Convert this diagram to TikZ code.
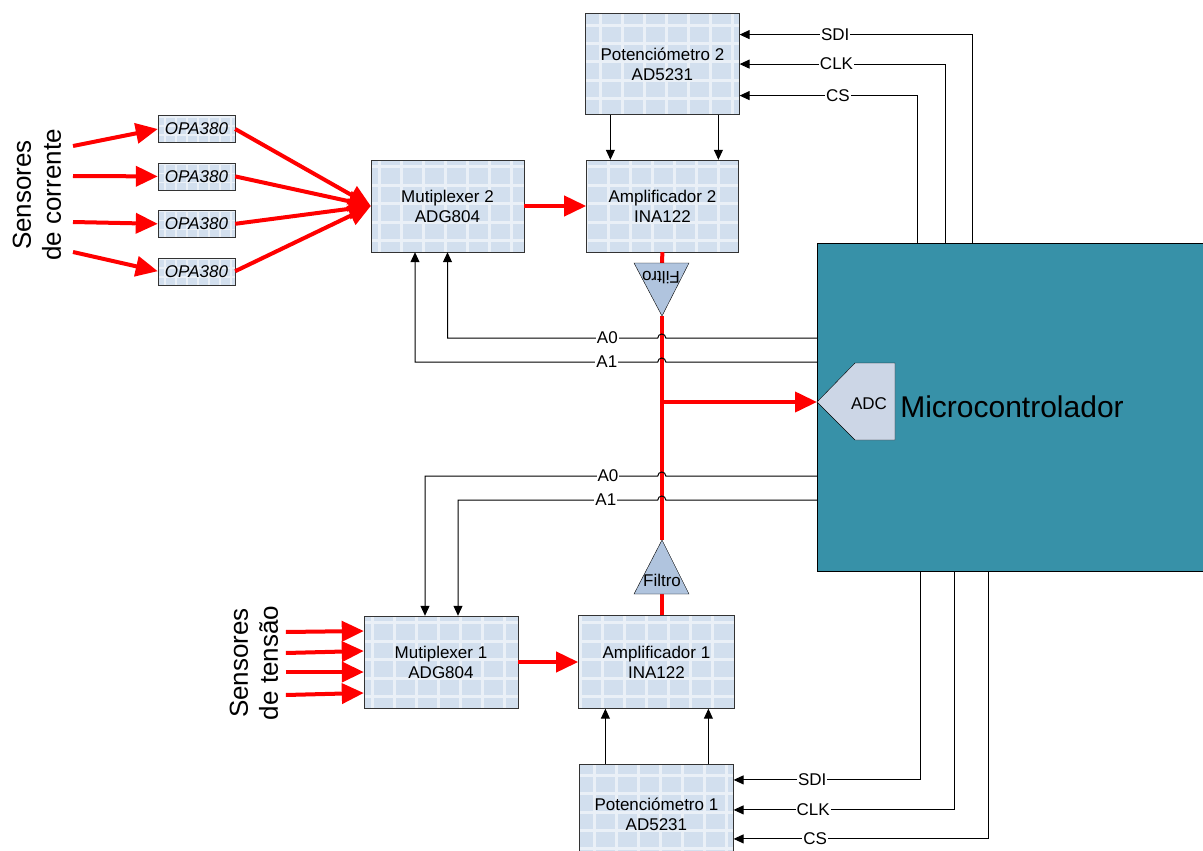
\documentclass[tikz,border=0pt]{standalone}
\usepackage{fontspec}
\setmainfont{Liberation Sans}
\usetikzlibrary{arrows.meta, positioning, calc}

\begin{document}
\begin{tikzpicture}[x=1pt, y=-1pt,
    tile/.style={draw=white, opacity=.55, line width=3pt},
    bloco/.style={draw=black!80, fill=blococor, minimum width=153pt, minimum height=92pt, align=center,
        font=\fontsize{17}{20}\selectfont,
        path picture={\draw[tile] (path picture bounding box.south west) grid[xstep=22pt, ystep=18.4pt] (path picture bounding box.north east);}},
    opa/.style={draw=black!80, fill=blococor, minimum width=77pt, minimum height=27pt, inner sep=0pt,
        font=\itshape\fontsize{17}{20}\selectfont,
        path picture={\draw[tile, line width=1.5pt] (path picture bounding box.south west) grid[xstep=11pt, ystep=9pt] (path picture bounding box.north east);}},
    sinal/.style={draw=red, line width=4pt, -{Triangle[length=22pt, width=20pt]}},
    trilha/.style={draw=red, line width=4pt},
    ctrl/.style={draw=black, line width=1pt, -{Triangle[length=10pt, width=9pt]}},
    rotulo/.style={fill=white, inner sep=1pt, font=\fontsize{17}{20}\selectfont},
    grande/.style={align=center, font=\fontsize{26}{30}\selectfont, rotate=90}]

    % Cores
    \definecolor{blococor}{RGB}{210,223,238}
    \definecolor{filtrocor}{RGB}{176,196,222}
    \definecolor{adccor}{RGB}{204,214,230}
    \definecolor{mcucor}{RGB}{55,145,168}

    \useasboundingbox (0,0) rectangle (1203,851);

    % Microcontrolador
    \node[draw=black, fill=mcucor, minimum width=400pt, minimum height=328pt] (mcu) at (1017,407) {};
    \coordinate (adc) at (817,402);
    \draw[draw=black, fill=adccor] (adc) -- (855,363) -- (895,363) -- (895,440) -- (855,440) -- cycle;
    \node[font=\fontsize{17}{20}\selectfont] (adctxt) at (869,404) {ADC};
    \node[font=\fontsize{30}{36}\selectfont] (mcutxt) at (1012,407) {Microcontrolador};

    % Canal de corrente
    \node[bloco] (mux2) at (447.5,206) {Mutiplexer 2\\ADG804};
    \node[bloco, minimum width=152pt, right=62pt of mux2] (amp2) {Amplificador 2\\INA122};
    \node[bloco, minimum width=154pt, minimum height=101pt, above=45pt of amp2] (pot2) {Potenciómetro 2\\AD5231};

    \node[opa] (opa1) at (196.5,129) {OPA380};
    \node[opa, below=20pt of opa1] (opa2) {OPA380};
    \node[opa, below=20pt of opa2] (opa3) {OPA380};
    \node[opa, below=20pt of opa3] (opa4) {OPA380};

    \node[grande] (sencor) at (37,195) {Sensores\\de corrente};
    \coordinate (c1) at (73,146);
    \coordinate (c2) at (73,176);
    \coordinate (c3) at (73,222);
    \coordinate (c4) at (73,252);

    % Canal de tensao
    \node[bloco, minimum width=154pt] (mux1) at (441,662) {Mutiplexer 1\\ADG804};
    \node[bloco, minimum width=156pt, minimum height=93pt, right=60pt of mux1] (amp1) {Amplificador 1\\INA122};
    \node[bloco, minimum width=154pt, minimum height=101pt, below=55pt of amp1] (pot1) {Potenciómetro 1\\AD5231};

    \node[grande] (senten) at (254,663) {Sensores\\de tensão};

    % Sensores -> OPA380 -> Mux 2
    \draw[sinal] (c1) -- (opa1.west);
    \draw[sinal] (c2) -- (opa2.west);
    \draw[sinal] (c3) -- (opa3.west);
    \draw[sinal] (c4) -- (opa4.west);
    \draw[sinal] (opa1.east) -- (mux2.west);
    \draw[sinal] (opa2.east) -- (mux2.west);
    \draw[sinal] (opa3.east) -- (mux2.west);
    \draw[sinal] (opa4.east) -- (mux2.west);
    \draw[sinal] (mux2) -- (amp2);

    % Sensores -> Mux 1 -> Amp 1
    \draw[sinal] ([xshift=-78pt, yshift=30pt]mux1.west) -- ([yshift=31pt]mux1.west);
    \draw[sinal] ([xshift=-78pt, yshift=9pt]mux1.west) -- ([yshift=11pt]mux1.west);
    \draw[sinal] ([xshift=-78pt, yshift=-10pt]mux1.west) -- ([yshift=-10pt]mux1.west);
    \draw[sinal] ([xshift=-78pt, yshift=-33pt]mux1.west) -- ([yshift=-31pt]mux1.west);
    \draw[sinal] (mux1) -- (amp1);

    % Filtros e linha ate o ADC
    \coordinate (f2base) at (662,263);
    \coordinate (f2ponta) at (662,316);
    \coordinate (f1ponta) at (662,540);
    \coordinate (f1base) at (662,594);
    \coordinate (ramo) at (662,402);
    \draw[trilha] (amp2.south) -- (f2base);
    \draw[trilha] (f2ponta) -- (f1ponta);
    \draw[trilha] (f1base) -- (f1base |- amp1.north);
    \draw[sinal] (ramo) -- (adc);
    \draw[draw=black, fill=filtrocor] (634,263) -- (689,263) -- (f2ponta) -- cycle;
    \draw[draw=black, fill=filtrocor] (634,594) -- (689,594) -- (f1ponta) -- cycle;
    \node[font=\fontsize{17}{20}\selectfont, inner sep=0pt, rotate=180] (filtro2) at (661,278) {Filtro};
    \node[font=\fontsize{17}{20}\selectfont, inner sep=0pt] (filtro1) at (662,580) {Filtro};

    % Enderecos A0 / A1
    \draw[ctrl] ([yshift=69pt]mcu.west) -- ++(-151pt,0) arc[start angle=0, end angle=180, radius=4pt]
        -| node[rotulo, pos=.12] {A0} (mux2.south);
    \draw[ctrl] ([yshift=45pt]mcu.west) -- ++(-151pt,0) arc[start angle=0, end angle=180, radius=4pt]
        -| node[rotulo, pos=.105] {A1} ([xshift=-32.5pt]mux2.south);
    \draw[ctrl] ([yshift=-69pt]mcu.west) -- ++(-151pt,0) arc[start angle=0, end angle=180, radius=4pt]
        -| node[rotulo, pos=.107] {A0} ([xshift=-16pt]mux1.north);
    \draw[ctrl] ([yshift=-93pt]mcu.west) -- ++(-151pt,0) arc[start angle=0, end angle=180, radius=4pt]
        -| node[rotulo, pos=.13] {A1} ([xshift=17pt]mux1.north);

    % Potenciometros -> amplificadores
    \draw[ctrl] ([xshift=-52pt]pot2.south) -- ([xshift=-52pt]amp2.north);
    \draw[ctrl] ([xshift=56pt]pot2.south) -- ([xshift=56pt]amp2.north);
    \draw[ctrl] ([xshift=-51pt]pot1.north) -- ([xshift=-51pt]amp1.south);
    \draw[ctrl] ([xshift=52pt]pot1.north) -- ([xshift=52pt]amp1.south);

    % SPI do potenciometro 2
    \draw[ctrl] ([xshift=156pt]mcu.north west) |- node[rotulo, pos=.795] {SDI} ([yshift=29.5pt]pot2.east);
    \draw[ctrl] ([xshift=129pt]mcu.north west) |- node[rotulo, pos=.765] {CLK} (pot2.east);
    \draw[ctrl] ([xshift=101pt]mcu.north west) |- node[rotulo, pos=.724] {CS} ([yshift=-31.5pt]pot2.east);

    % SPI do potenciometro 1
    \draw[ctrl] ([xshift=104pt]mcu.south west) |- node[rotulo, pos=.79] {SDI} ([yshift=34.5pt]pot1.east);
    \draw[ctrl] ([xshift=138pt]mcu.south west) |- node[rotulo, pos=.82] {CLK} ([yshift=4.5pt]pot1.east);
    \draw[ctrl] ([xshift=172pt]mcu.south west) |- node[rotulo, pos=.84] {CS} ([yshift=-24.5pt]pot1.east);

\end{tikzpicture}
\end{document}
